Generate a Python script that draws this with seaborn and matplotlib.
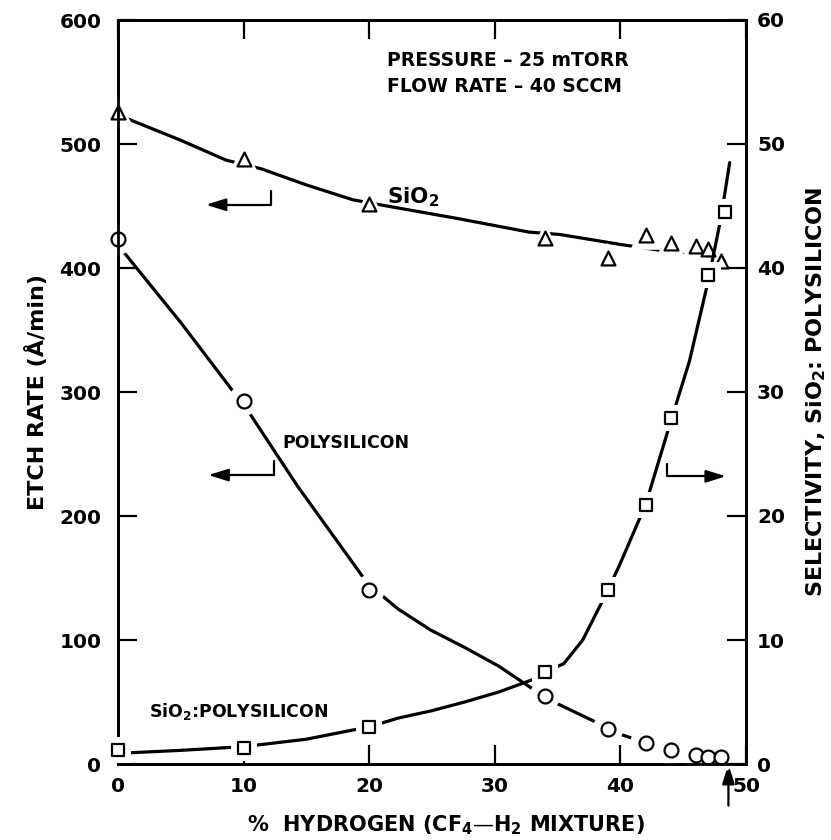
import numpy as np
import pandas as pd
import seaborn as sns
import matplotlib.pyplot as plt

h2_pct = [0, 10, 20, 34, 39, 42, 44, 46, 47, 48]
sio2_rate = [526, 488, 452, 424, 408, 427, 420, 418, 415, 406]
poly_rate = [423, 293, 140, 55, 28, 17, 11, 7.5, 6, 6]
sel_pct = [0, 10, 20, 34, 39, 42, 44, 47, 48.3]
selectivity = [1.1, 1.3, 3.0, 7.4, 14.0, 20.9, 27.9, 39.4, 44.5]

# hand drawn fit curves
sio2_fit_x = [0.6, 5, 8.6, 11.4, 15, 18.7, 21.4, 27, 32.7, 35.2, 40, 44, 47.5]
sio2_fit_y = [521, 503, 487, 480, 467, 455, 450, 440, 429, 427, 419, 413, 406]
poly_fit_x = [0.2, 1, 5, 8.9, 10.4, 14.3, 19.7, 21, 22.3, 24.9, 27.6, 30.3, 32.8,
              34.7, 38, 40, 42, 44, 46, 48]
poly_fit_y = [416, 406, 356, 304, 284, 224, 148, 136, 125, 108, 94, 79, 62,
              50, 34, 24, 17, 11, 7, 6]
sel_fit_x = [0.8, 5, 10, 15, 20, 22.3, 25, 27.6, 30.3, 33, 34, 35.5, 37, 39, 40,
             42, 44, 45.5, 47, 48, 48.7]
sel_fit_y = [0.9, 1.1, 1.4, 2.0, 3.0, 3.7, 4.3, 5.0, 5.8, 6.8, 7.4, 8.1, 10.0, 14.0,
             16.2, 20.9, 27.6, 32.5, 39.0, 44.0, 48.5]

left_ticks = [0, 100, 200, 300, 400, 500, 600]
right_ticks = [0, 10, 20, 30, 40, 50, 60]
x_ticks = [0, 10, 20, 30, 40, 50]

sns.set_style("ticks")
plt.rcParams['font.family'] = ['DejaVu Sans']
plt.rcParams['font.weight'] = 'bold'
plt.rcParams['axes.labelweight'] = 'bold'
plt.rcParams['mathtext.fontset'] = 'dejavusans'
plt.rcParams['mathtext.default'] = 'bf'
for k in ('text.color', 'axes.labelcolor', 'xtick.color', 'ytick.color', 'axes.edgecolor'):
    plt.rcParams[k] = 'black'

fig = plt.figure(figsize=(8.31, 8.4), dpi=100)
ax = fig.add_axes([118 / 831, 1 - 764 / 840, 628 / 831, 744 / 840])
ax2 = ax.twinx()

LW = 2.3
fs = 13.5
tfs = 14.5

def halo_markers(axis, x, y, marker, size):
    # white blob under each marker gives the broken-line look
    sns.scatterplot(x=x, y=y, ax=axis, marker=marker, s=(size * 2.2) ** 2,
                    color='white', edgecolor='none', linewidth=0, zorder=4,
                    legend=False, clip_on=False)
    sns.scatterplot(x=x, y=y, ax=axis, marker=marker, s=size ** 2,
                    facecolor='white', edgecolor='black', linewidth=1.6, zorder=5,
                    legend=False, clip_on=False)

# left axis: etch rates
sns.lineplot(x=sio2_fit_x, y=sio2_fit_y, ax=ax, color='black', lw=LW,
             sort=False, estimator=None, zorder=3)
sns.lineplot(x=poly_fit_x, y=poly_fit_y, ax=ax, color='black', lw=LW,
             sort=False, estimator=None, zorder=3)
halo_markers(ax, h2_pct, sio2_rate, '^', 10)
halo_markers(ax, h2_pct, poly_rate, 'o', 10)

# right axis: selectivity
sns.lineplot(x=sel_fit_x, y=sel_fit_y, ax=ax2, color='black', lw=LW,
             sort=False, estimator=None, zorder=3)
halo_markers(ax2, sel_pct, selectivity, 's', 8.5)

ax.set_xlim(0, 50)
ax.set_ylim(0, 600)
ax2.set_ylim(0, 60)
ax.set_xticks(x_ticks)
ax.set_yticks(left_ticks)
ax2.set_yticks(right_ticks)
ax.set_xticklabels([str(t) for t in x_ticks])
ax.set_yticklabels([str(t) for t in left_ticks])
ax2.set_yticklabels([str(t) for t in right_ticks])

ax.tick_params(axis='both', direction='in', length=14, width=1.6, labelsize=tfs,
               top=True, right=False, pad=9)
ax.tick_params(axis='y', pad=12)
ax2.tick_params(axis='y', direction='in', length=14, width=1.6, labelsize=tfs, pad=8)
for a in (ax, ax2):
    for sp in a.spines.values():
        sp.set_linewidth(2.0)
        sp.set_visible(True)

ax.set_xlabel("%  HYDROGEN (CF$_4$\u2014H$_2$ MIXTURE)", fontsize=15)
ax.xaxis.set_label_coords(0.522, -0.066)
ax.set_ylabel("ETCH RATE (\u00c5/min)", fontsize=16, labelpad=8)
ax2.set_ylabel("SELECTIVITY, SiO$_2$: POLYSILICON", fontsize=16, labelpad=14)

# text annotations
ax.text(21.4, 567, "PRESSURE \u2013 25 mTORR", fontsize=fs, va='center', ha='left')
ax.text(21.4, 546, "FLOW RATE \u2013 40 SCCM", fontsize=fs, va='center', ha='left')
ax.text(21.4, 457, "SiO$_2$", fontsize=fs + 2, va='center', ha='left')
ax.text(13.1, 259, "POLYSILICON", fontsize=fs - 1, va='center', ha='left')
ax.text(2.5, 42, "SiO$_2$:POLYSILICON", fontsize=fs - 1, va='center', ha='left')

arrow = dict(arrowstyle='-|>,head_length=0.8,head_width=0.25', color='black',
             lw=1.6, shrinkA=0, shrinkB=0, mutation_scale=15)
ax.annotate("", xy=(7.0, 451), xytext=(12.2, 462),
            arrowprops=dict(arrow, connectionstyle="angle,angleA=90,angleB=0,rad=0"))
ax.annotate("", xy=(7.2, 233), xytext=(12.4, 244),
            arrowprops=dict(arrow, connectionstyle="angle,angleA=90,angleB=0,rad=0"))
ax.annotate("", xy=(48.4, 232), xytext=(43.7, 242),
            arrowprops=dict(arrow, connectionstyle="angle,angleA=90,angleB=0,rad=0"))
ax.annotate("", xy=(48.6, 0), xytext=(0, -30), textcoords='offset points',
            annotation_clip=False, arrowprops=arrow)

fig.savefig("out.png", dpi=100)
